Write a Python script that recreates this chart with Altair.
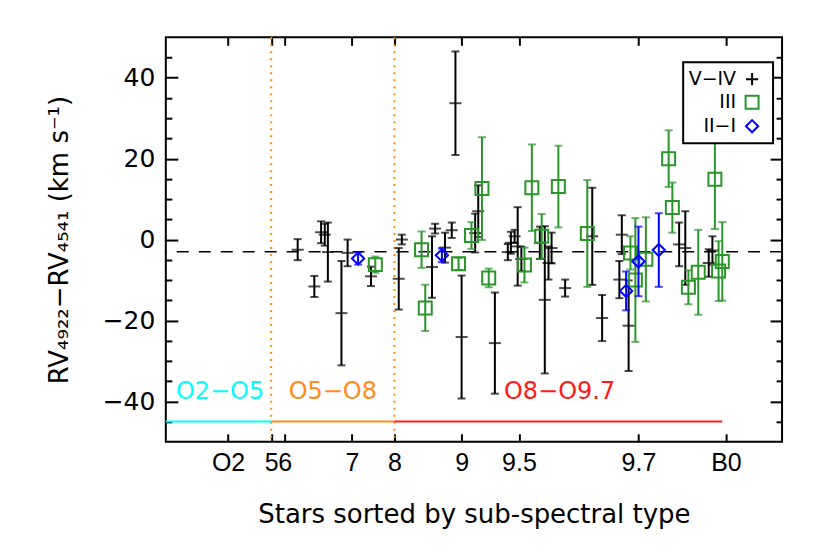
import altair as alt
import pandas as pd

# ---------------- data ----------------
# x: position of the star in the sorted sequence (arbitrary units, 0..100 across the frame)
v_x = [21.4, 24.1, 25.2, 25.8, 26.3, 28.5, 29.5, 33.3, 37.8, 38.3, 43.2, 43.7, 45.3, 46.4, 47.0,
       48.0, 50.2, 50.7, 53.4, 55.5, 56.0, 56.6, 57.1, 57.7, 60.7, 61.5, 62.1, 62.6, 64.8, 69.2,
       70.8, 73.6, 74.0, 75.1, 83.3, 84.3, 88.1, 88.7]
v_y = [-2.5, -11.6, 1.8, 1.2, -3.1, -18.2, -3.3, -9.1, -9.7, 0.0, -6.8, 2.7, -2.0, 2.3, 33.7,
       -24.1, 1.6, 7.0, -25.6, -3.1, -0.8, 0.8, -1.7, -4.8, -0.8, -14.9, -5.8, -2.1, -12.0, 0.8,
       -19.4, -9.9, 1.2, -21.3, -1.2, -2.1, -5.8, -2.7]
v_e = [2.6, 2.6, 2.7, 2.7, 7.3, 12.9, 3.3, 2.4, 7.6, 1.2, 7.6, 1.2, 3.7, 1.9, 12.8,
       15.2, 4.8, 6.4, 12.5, 2.0, 2.7, 1.6, 9.7, 3.0, 4.0, 18.2, 4.1, 3.8, 2.1, 12.0,
       5.7, 4.6, 4.8, 11.2, 5.4, 9.1, 3.4, 3.5]

g_x = [34.0, 41.5, 42.1, 47.5, 49.6, 51.3, 52.4, 58.2, 59.4, 61.0, 63.7, 68.4, 75.4, 76.2, 77.9,
       81.6, 82.2, 84.8, 86.4, 89.1, 89.7, 90.3]
g_y = [-6.2, -2.5, -16.9, -6.0, 1.0, 12.6, -9.5, -6.3, 12.8, 0.8, 13.1, 1.5, -3.3, -10.0, -4.9,
       20.0, 7.9, -11.8, -8.1, 14.9, -7.8, -5.4]
g_e = [2.0, 4.5, 5.7, 1.5, 3.3, 12.7, 2.3, 4.3, 10.7, 5.5, 10.1, 13.2, 4.1, 15.3, 10.4,
       7.0, 6.2, 4.2, 10.5, 12.3, 7.4, 9.7]

b_x = [31.2, 44.8, 74.7, 76.7, 80.0]
b_y = [-4.7, -3.9, -12.7, -5.4, -2.6]
b_e = [1.5, 1.7, 4.8, 8.6, 9.1]

tick_pos = [10.1, 17.1, 19.3, 30.2, 37.1, 48.0, 57.3, 76.7, 90.9]
tick_lab = ["O2", "5", "6", "7", "8", "9", "9.5", "9.7", "B0"]

y_major = [-40, -20, 0, 20, 40]
y_minor = [-45, -35, -30, -25, -15, -10, -5, 5, 10, 15, 25, 30, 35, 45]

boundaries = [17.1, 37.1]
ref_level = -3.0

seg_x = [0.0, 17.1, 37.1]
seg_x2 = [17.1, 37.1, 90.3]
seg_y = [-45, -45, -45]
seg_col = ["#00ffff", "#ff8c1a", "#ff1a1a"]
seg_lab = ["O2−O5", "O5−O8", "O8−O9.7"]
seg_lab_x = [8.8, 27.1, 63.9]
seg_lab_y = [-37.7, -37.7, -37.7]

legend_labels = ["V−IV", "III", "II−I"]

BLACK = "#000000"
GREEN = "#2a962a"
BLUE = "#0000ff"
FONT = "DejaVu Sans"
TICKFONT = "Liberation Sans"
W, H = 617, 405

xs = alt.Scale(domain=[0, 100], nice=False, zero=False)
ys = alt.Scale(domain=[-50, 50], nice=False, zero=False)


def mk(xv, yv, ev):
    return pd.DataFrame({"x": xv, "y": yv, "lo": [a - b for a, b in zip(yv, ev)],
                         "hi": [a + b for a, b in zip(yv, ev)]})


dv, dg, db = mk(v_x, v_y, v_e), mk(g_x, g_y, g_e), mk(b_x, b_y, b_e)

X = lambda f="x": alt.X(f"{f}:Q", scale=xs, axis=None)
Y = lambda f="y": alt.Y(f"{f}:Q", scale=ys, axis=None)


def errbars(df, color):
    bars = alt.Chart(df).mark_rule(color=color, strokeWidth=2).encode(
        x=X(), y=Y("lo"), y2="hi")
    lo = alt.Chart(df).mark_tick(color=color, orient="horizontal", size=8, thickness=2).encode(
        x=X(), y=Y("lo"))
    hi = alt.Chart(df).mark_tick(color=color, orient="horizontal", size=8, thickness=2).encode(
        x=X(), y=Y("hi"))
    return [bars, lo, hi]


# ---------- axes (inward ticks on all four sides) ----------
label_expr = " : ".join(f"datum.value == {p} ? '{l}'" for p, l in zip(tick_pos, tick_lab)) + " : ''"
base_axis = dict(grid=False, domain=False, tickColor=BLACK, tickWidth=2, labelColor=BLACK,
                 titleColor=BLACK, titleFont=FONT, titleFontSize=26,
                 titleFontWeight="normal", labelOverlap=False)
dummy = pd.DataFrame({"x": [50.0], "y": [0.0]})


def axis_layer(xaxis, yaxis):
    return alt.Chart(dummy).mark_point(opacity=0).encode(
        x=alt.X("x:Q", scale=xs, axis=xaxis), y=alt.Y("y:Q", scale=ys, axis=yaxis))


ax1 = axis_layer(
    alt.Axis(orient="bottom", values=tick_pos, labelExpr=label_expr, ticks=False, tickSize=0,
             labelFont=TICKFONT, labelFontSize=25,
             labelPadding=9, title="Stars sorted by sub-spectral type", titlePadding=26,
             **base_axis),
    alt.Axis(orient="left", values=y_major, ticks=False, tickSize=0, labelPadding=11,
             labelFont=FONT, labelFontSize=25,
             title="RV₄₉₂₂−RV₄₅₄₁  (km s⁻¹)", titlePadding=30, **base_axis))
ax2 = axis_layer(
    alt.Axis(orient="top", offset=-H, values=tick_pos, labels=False, tickSize=8, title=None,
             **base_axis),
    alt.Axis(orient="right", offset=-W, values=y_major, labels=False, tickSize=12, title=None,
             **base_axis))
ax3 = axis_layer(
    alt.Axis(orient="bottom", offset=-H, values=tick_pos, labels=False, tickSize=8, title=None,
             **base_axis),
    alt.Axis(orient="right", offset=-W, values=y_minor, labels=False, tickSize=6, title=None,
             **base_axis))
ax4 = axis_layer(
    None,
    alt.Axis(orient="left", offset=-W, values=y_major, labels=False, tickSize=12, title=None,
             **base_axis))
ax5 = axis_layer(
    None,
    alt.Axis(orient="left", offset=-W, values=y_minor, labels=False, tickSize=6, title=None,
             **base_axis))

# ---------- reference lines & spectral ranges ----------
segs = pd.DataFrame({"x": seg_x, "x2": seg_x2, "y": seg_y, "c": seg_col,
                     "lab": seg_lab, "lx": seg_lab_x, "ly": seg_lab_y})

vlines = alt.Chart(pd.DataFrame({"x": boundaries})).mark_rule(
    color="#ff8c1a", strokeWidth=2, strokeDash=[2, 5]).encode(x=X())
hline = alt.Chart(pd.DataFrame({"y": [ref_level]})).mark_rule(
    color=BLACK, strokeWidth=1.5, strokeDash=[12, 10]).encode(y=Y())
seglines = alt.Chart(segs).mark_rule(strokeWidth=2).encode(
    x=X(), x2="x2", y=Y(), color=alt.Color("c:N", scale=None))
seglabs = alt.Chart(segs).mark_text(font=FONT, fontSize=24, baseline="middle").encode(
    x=X("lx"), y=Y("ly"), text="lab:N", color=alt.Color("c:N", scale=None))

# ---------- data marks ----------
plus_center = alt.Chart(dv).mark_tick(color=BLACK, orient="horizontal", size=12, thickness=2).encode(
    x=X(), y=Y())
squares = alt.Chart(dg).mark_point(shape="square", size=169, filled=False, color=GREEN,
                                   strokeWidth=2, opacity=1).encode(x=X(), y=Y())
diamonds = alt.Chart(db).mark_point(shape="diamond", size=150, filled=False, color=BLUE,
                                    strokeWidth=2, opacity=1).encode(x=X(), y=Y())

# ---------- legend ----------
leg_box = alt.Chart(dummy).mark_rect(fill="white", stroke=BLACK, strokeWidth=2).encode(
    x=alt.value(518), x2=alt.value(608), y=alt.value(25), y2=alt.value(106))
leg_rows_y = [42, 65, 89]
leg_shapes = ["M-1,0L1,0M0,-1L0,1", "square", "diamond"]
leg_cols = [BLACK, GREEN, BLUE]
leg_sizes = [150, 169, 150]
leg_layers = [leg_box]
for lab, yy, shp, col, sz in zip(legend_labels, leg_rows_y, leg_shapes, leg_cols, leg_sizes):
    leg_layers.append(alt.Chart(dummy).mark_text(text=lab, font=FONT, fontSize=19, align="right",
                                                 baseline="middle", color=BLACK).encode(
        x=alt.value(571), y=alt.value(yy)))
    leg_layers.append(alt.Chart(dummy).mark_point(shape=shp, size=sz, filled=False, color=col,
                                                  strokeWidth=2, opacity=1).encode(
        x=alt.value(587), y=alt.value(yy)))

layers = [ax1, ax2, ax3, ax4, ax5, vlines, hline, seglines, seglabs]
layers += errbars(dv, BLACK) + [plus_center]
layers += errbars(dg, GREEN) + [squares]
layers += errbars(db, BLUE) + [diamonds]
layers += leg_layers

chart = alt.layer(*layers).resolve_axis(x="independent", y="independent").properties(
    width=W, height=H,
    background="white",
    autosize=alt.AutoSizeParams(type="none"),
    padding={"left": 158, "top": 29, "right": 40, "bottom": 100},
).configure_view(stroke=BLACK, strokeWidth=2)

chart.save("out.html", embed_options={"renderer": "svg", "actions": False})
